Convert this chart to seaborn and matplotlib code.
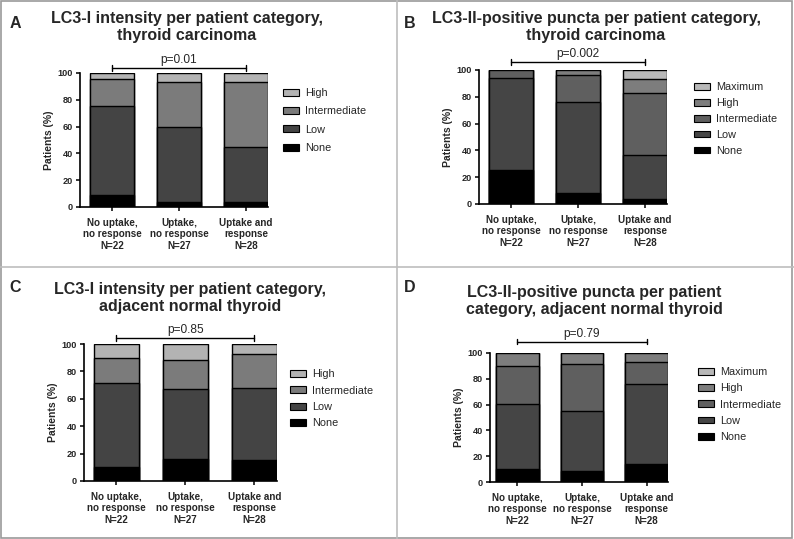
import matplotlib
matplotlib.use("Agg")
import matplotlib.pyplot as plt
import matplotlib.patches as patches
from matplotlib.lines import Line2D
import pandas as pd
import seaborn as sns

# categories on the x axis
groups = ["No uptake,\nno response\nN=22", "Uptake,\nno response\nN=27", "Uptake and\nresponse\nN=28"]

# panel A: LC3-I intensity, thyroid carcinoma (% of patients per level)
a_none = [9.1, 3.7, 3.6]
a_low = [65.9, 56.3, 40.9]
a_int = [20.5, 33.0, 48.8]
a_high = [4.5, 7.0, 6.7]

# panel B: LC3-II puncta, thyroid carcinoma
b_none = [25.4, 8.0, 3.7]
b_low = [68.4, 68.0, 33.0]
b_int = [6.2, 20.3, 46.1]
b_high = [0.0, 3.7, 10.7]
b_max = [0.0, 0.0, 6.5]

# panel C: LC3-I intensity, adjacent normal thyroid
c_none = [10.0, 16.1, 15.1]
c_low = [61.3, 51.1, 52.5]
c_int = [18.5, 20.9, 24.9]
c_high = [10.2, 11.9, 7.5]

# panel D: LC3-II puncta, adjacent normal thyroid
d_none = [10.1, 8.8, 14.2]
d_low = [50.1, 46.2, 61.5]
d_int = [29.5, 36.2, 17.3]
d_high = [10.3, 8.8, 7.0]
d_max = [0.0, 0.0, 0.0]

levels4 = ["None", "Low", "Intermediate", "High"]
levels5 = ["None", "Low", "Intermediate", "High", "Maximum"]
pvals = ["p=0.01", "p=0.002", "p=0.85", "p=0.79"]
titles = ["LC3-I intensity per patient category,\nthyroid carcinoma",
          "LC3-II-positive puncta per patient category,\nthyroid carcinoma",
          "LC3-I intensity per patient category,\nadjacent normal thyroid",
          "LC3-II-positive puncta per patient\ncategory, adjacent normal thyroid"]
letters = ["A", "B", "C", "D"]

cols4 = ["#000000", "#444444", "#7b7b7b", "#b3b3b3"]
cols5 = ["#000000", "#454545", "#5f5f5f", "#7d7d7d", "#b8b8b8"]

sns.set_style("white")
plt.rcParams['font.family'] = ['Liberation Sans', 'DejaVu Sans']

W, H = 794, 539
fig = plt.figure(figsize=(W / 100, H / 100), dpi=100)

def fx(px):
    return px / W

def fy(py):
    return 1 - py / H

# panel frames
fig.add_artist(patches.Rectangle((0.001, 0.002), 0.997, 0.996, transform=fig.transFigure,
                                 fill=False, ec="#9a9a9a", lw=1.2))
fig.add_artist(Line2D([fx(397), fx(397)], [0, 1], transform=fig.transFigure, color="#bdbdbd", lw=1.2))
fig.add_artist(Line2D([0, 1], [fy(267), fy(267)], transform=fig.transFigure, color="#bdbdbd", lw=1.2))

# axes rectangles in pixels: left, right, top(y=100), bottom(y=0), xlim left
boxes = [(80, 268, 73, 207, -0.48), (479, 667, 70, 204, -0.48),
         (84, 277, 344, 481, -0.47), (490, 668, 353, 482, -0.42)]
legpos = [(283, 88, 0.77), (694, 82, 0.55), (290, 369, 0.6), (698, 367, 0.58)]
titlepos = [(187, 27), (596, 27), (190, 298), (594, 301)]
letterpos = [(15, 23), (410, 23), (15, 288), (410, 287)]
bracket_y = [103.7, 105.7, 104.2, 108.8]

panels = [
    (levels4, cols4, [a_none, a_low, a_int, a_high]),
    (levels5, cols5, [b_none, b_low, b_int, b_high, b_max]),
    (levels4, cols4, [c_none, c_low, c_int, c_high]),
    (levels5, cols5, [d_none, d_low, d_int, d_high, d_max]),
]

for i, (levels, cols, series) in enumerate(panels):
    l, r, t, b, x0 = boxes[i]
    ax = fig.add_axes([fx(l), fy(b), fx(r - l), (b - t) / H])
    df = pd.DataFrame({lv: s for lv, s in zip(levels, series)})
    df["group"] = groups
    cum = df[levels].cumsum(axis=1)
    # draw cumulative bars from the top level down so they stack
    for lv, c in reversed(list(zip(levels, cols))):
        d = pd.DataFrame({"group": groups, "val": cum[lv]})
        sns.barplot(data=d, x="group", y="val", color=c, width=0.66,
                    edgecolor="black", linewidth=1.0, saturation=1, ax=ax)
    ax.set_ylim(0, 100)
    ax.set_xlim(x0, 2.33)
    ax.set_yticks([0, 20, 40, 60, 80, 100])
    ax.set_xlabel("")
    ax.set_ylabel("Patients (%)", fontsize=7.5, fontweight="bold", labelpad=3)
    ax.tick_params(axis="both", direction="out", length=3, width=1.1, color="black",
                   bottom=True, left=True, pad=2)
    ax.tick_params(axis="y", labelsize=6.6)
    ax.tick_params(axis="x", labelsize=7.1, pad=5)
    for lab in ax.get_xticklabels() + ax.get_yticklabels():
        lab.set_fontweight("bold")
        lab.set_linespacing(1.15)
    sns.despine(ax=ax)
    for s in ["left", "bottom"]:
        ax.spines[s].set_linewidth(1.2)
        ax.spines[s].set_color("black")

    # significance bracket
    by = bracket_y[i]
    ax.plot([0, 2], [by, by], color="black", lw=1.0, clip_on=False)
    for xe in [0, 2]:
        ax.plot([xe, xe], [by - 2.2, by + 2.2], color="black", lw=1.0, clip_on=False)
    ax.text(1, by + 1.5, pvals[i], ha="center", va="bottom", fontsize=8.6, clip_on=False)

    # legend, top level first
    lx, ly, ls = legpos[i]
    handles = [patches.Patch(facecolor=c, edgecolor="black", linewidth=0.8)
               for c in reversed(cols)]
    ax.legend(handles, list(reversed(levels)), loc="upper left",
              bbox_to_anchor=(fx(lx), fy(ly)), bbox_transform=fig.transFigure,
              frameon=False, fontsize=7.8, handlelength=1.45, handleheight=0.6,
              handletextpad=0.6, labelspacing=ls, borderpad=0, borderaxespad=0)

    tx, ty = titlepos[i]
    fig.text(fx(tx), fy(ty), titles[i], ha="center", va="center", fontsize=11.5,
             fontweight="bold", linespacing=1.22)
    px, py = letterpos[i]
    fig.text(fx(px), fy(py), letters[i], ha="center", va="center", fontsize=11.5,
             fontweight="bold")

fig.savefig("out.png", dpi=100)
